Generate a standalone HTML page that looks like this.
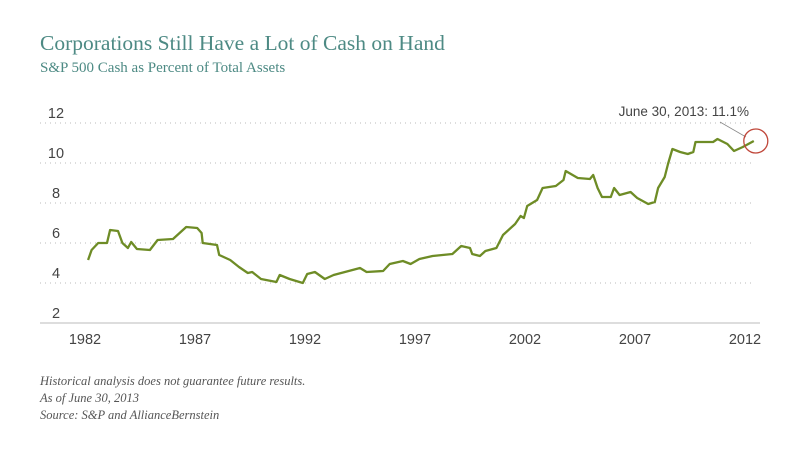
<!DOCTYPE html>
<html><head><meta charset="utf-8"><style>
body{margin:0;background:#fff;width:800px;height:459px;overflow:hidden}
svg{display:block}
</style></head><body>
<svg id="chart" width="800" height="459">
<text x="40" y="50" font-family="Liberation Serif, serif" font-size="21.5" fill="#4d8a84">Corporations Still Have a Lot of Cash on Hand</text>
<text x="40" y="72" font-family="Liberation Serif, serif" font-size="15" fill="#4d8a84">S&amp;P 500 Cash as Percent of Total Assets</text>
<g id="grid"></g><g id="yt"></g><g id="xt"></g>
<line x1="40" y1="323" x2="760" y2="323" stroke="#bbb" stroke-width="1"/>
<polyline id="series" fill="none" stroke="#6e8c26" stroke-width="2.3" stroke-linejoin="round"/>
<line x1="720" y1="122" x2="746" y2="137" stroke="#888" stroke-width="0.8"/>
<circle id="hl" r="12" fill="none" stroke="#c0473a" stroke-width="1.3"/>
<text x="749" y="116" text-anchor="end" font-family="Liberation Sans, sans-serif" font-size="13.5" fill="#444">June 30, 2013: 11.1%</text>
<g font-family="Liberation Serif, serif" font-style="italic" font-size="12.5" fill="#555">
<text x="40" y="385">Historical analysis does not guarantee future results.</text>
<text x="40" y="402">As of June 30, 2013</text>
<text x="40" y="419">Source: S&amp;P and AllianceBernstein</text>
</g>
</svg>
<script>
const years=[1982.14,1982.3,1982.6,1983.0,1983.14,1983.5,1983.7,1983.95,1984.1,1984.36,1984.95,1985.3,1986,1986.3,1986.6,1987.1,1987.3,1987.35,1988,1988.1,1988.6,1989,1989.4,1989.6,1990,1990.7,1990.85,1991.3,1991.9,1992.1,1992.45,1992.9,1993.3,1994.5,1994.8,1995.55,1995.85,1996.45,1996.8,1997.2,1997.8,1998.7,1999.1,1999.5,1999.6,1999.95,2000.2,2000.7,2001,2001.55,2001.8,2001.95,2002.1,2002.55,2002.8,2003.4,2003.75,2003.85,2004.4,2004.95,2005.1,2005.3,2005.5,2005.9,2006.05,2006.3,2006.8,2007.1,2007.6,2007.9,2008.05,2008.35,2008.5,2008.7,2009.05,2009.4,2009.65,2009.75,2010.55,2010.75,2011.2,2011.5,2011.9,2012.4];
const values=[5.15,5.65,6.0,6.0,6.65,6.6,6.0,5.75,6.05,5.7,5.65,6.15,6.2,6.5,6.8,6.75,6.5,6.0,5.9,5.4,5.15,4.8,4.5,4.55,4.2,4.05,4.4,4.2,4.0,4.45,4.55,4.2,4.4,4.75,4.55,4.6,4.95,5.1,4.95,5.2,5.35,5.45,5.85,5.75,5.45,5.35,5.6,5.75,6.4,6.95,7.35,7.25,7.85,8.15,8.75,8.85,9.15,9.6,9.25,9.2,9.4,8.75,8.3,8.3,8.75,8.4,8.55,8.25,7.95,8.05,8.75,9.3,9.95,10.7,10.55,10.45,10.55,11.05,11.05,11.2,10.95,10.6,10.8,11.1];
const yTicks=[2,4,6,8,10,12];
const xTicks=[1982,1987,1992,1997,2002,2007,2012];
const NS='http://www.w3.org/2000/svg';
const X=y=>85+(y-1982)*22, Y=v=>323-(v-2)*20;
function mk(t,a,p){const e=document.createElementNS(NS,t);for(const k in a)e.setAttribute(k,a[k]);p.appendChild(e);return e;}
const g=document.getElementById('grid'),yt=document.getElementById('yt'),xt=document.getElementById('xt');
yTicks.forEach(v=>{
  if(v>2){const l=mk('line',{x1:40,x2:752,y1:Y(v),y2:Y(v),stroke:'#bbb','stroke-width':1,'stroke-dasharray':'1 4'},g);
  
  }
  const t=mk('text',{x:56,y:Y(v)-5,'text-anchor':'middle','font-family':'Liberation Sans, sans-serif','font-size':14.5,fill:'#444'},yt);
  t.textContent=v;
  
  
});
xTicks.forEach(v=>{
  const t=mk('text',{x:X(v),y:344,'text-anchor':'middle','font-family':'Liberation Sans, sans-serif','font-size':14.5,fill:'#444'},xt);
  t.textContent=v;
  
  
});
document.getElementById('series').setAttribute('points',years.map((y,i)=>X(y)+','+Y(values[i])).join(' '));
const hl=document.getElementById('hl');
hl.setAttribute('cx',X(years[years.length-1])+2);
hl.setAttribute('cy',Y(values[values.length-1]));
</script>
</body></html>
